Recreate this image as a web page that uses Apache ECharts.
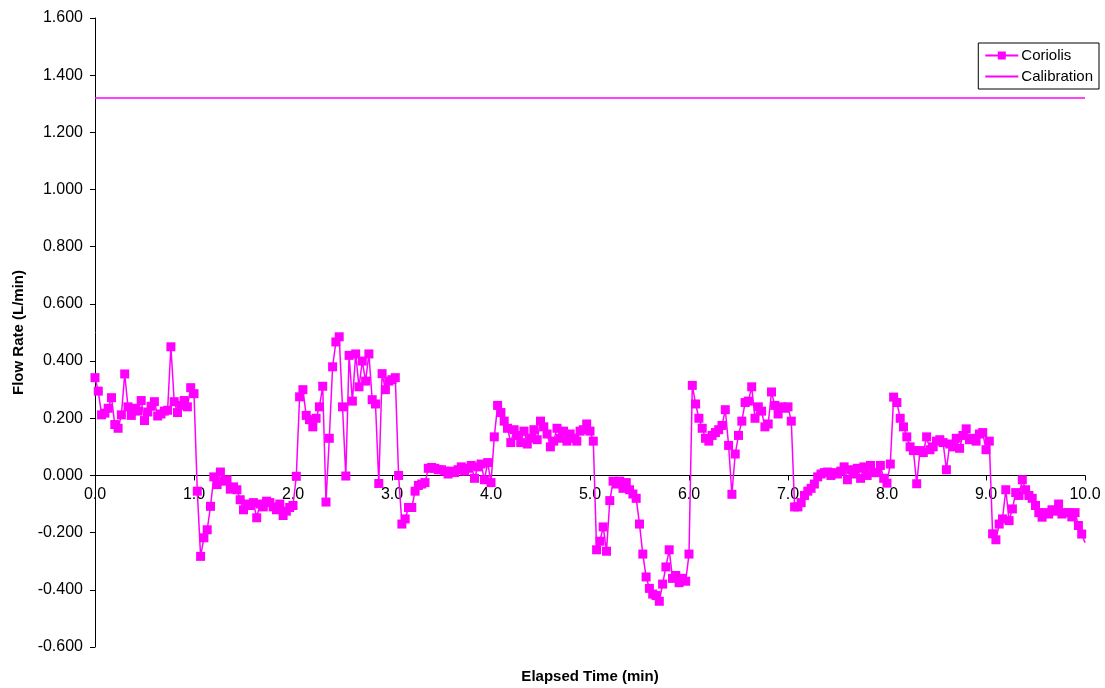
<!DOCTYPE html>
<html>
<head>
<meta charset="utf-8">
<script src="https://cdn.jsdelivr.net/npm/echarts@6/dist/echarts.min.js"></script>
<style>html,body{margin:0;padding:0;background:#fff}#c{width:1105px;height:688px}</style>
</head>
<body>
<div id="c"></div>
<script>
// Sampling interval (minutes) of the Coriolis record: one reading every 2 s
const sampleStepMin = 2 / 60;
// Coriolis flow rate readings (L/min), one per sample, minute by minute
const flowMin0 = [0.342,0.295,0.212,0.218,0.235,0.272,0.178,0.165,0.212,0.355,0.24,0.21,0.235,0.225,0.262,0.192,0.222,0.242,0.258,0.208,0.215,0.225,0.228,0.45,0.258,0.22,0.245,0.262,0.24,0.307];
const flowMin1 = [0.286,-0.055,-0.283,-0.218,-0.19,-0.108,-0.005,-0.032,0.012,-0.02,-0.015,-0.048,-0.04,-0.05,-0.085,-0.12,-0.1,-0.105,-0.095,-0.148,-0.1,-0.11,-0.09,-0.095,-0.11,-0.12,-0.1,-0.14,-0.125,-0.112];
const flowMin2 = [-0.105,-0.003,0.275,0.30,0.21,0.195,0.17,0.2,0.24,0.312,-0.093,0.13,0.38,0.467,0.485,0.24,-0.002,0.42,0.26,0.425,0.31,0.40,0.33,0.425,0.265,0.25,-0.028,0.356,0.30,0.33];
const flowMin3 = [0.335,0.342,0.0,-0.17,-0.152,-0.112,-0.112,-0.055,-0.035,-0.03,-0.025,0.025,0.028,0.025,0.02,0.02,0.015,0.005,0.015,0.01,0.02,0.03,0.015,0.025,0.035,-0.01,0.03,0.04,-0.015,0.045];
const flowMin4 = [-0.025,0.135,0.245,0.22,0.19,0.165,0.115,0.16,0.14,0.115,0.155,0.11,0.13,0.16,0.125,0.19,0.17,0.145,0.1,0.12,0.165,0.13,0.155,0.12,0.145,0.13,0.12,0.155,0.16,0.18];
const flowMin5 = [0.155,0.12,-0.26,-0.23,-0.18,-0.265,-0.088,-0.02,-0.03,-0.02,-0.045,-0.025,-0.05,-0.065,-0.08,-0.17,-0.275,-0.355,-0.395,-0.415,-0.42,-0.44,-0.38,-0.32,-0.26,-0.36,-0.35,-0.375,-0.36,-0.37];
const flowMin6 = [-0.275,0.315,0.25,0.2,0.165,0.13,0.12,0.14,0.15,0.16,0.175,0.23,0.105,-0.066,0.075,0.14,0.19,0.255,0.26,0.31,0.2,0.24,0.225,0.17,0.18,0.292,0.245,0.215,0.24,0.235];
const flowMin7 = [0.24,0.19,-0.11,-0.11,-0.095,-0.07,-0.055,-0.045,-0.03,-0.005,0.005,0.01,0.012,0.0,0.01,0.005,0.015,0.03,-0.015,0.02,0.005,0.025,-0.01,0.03,0.0,0.035,0.01,0.01,0.035,-0.01];
const flowMin8 = [-0.027,0.04,0.274,0.255,0.2,0.17,0.135,0.1,0.087,-0.029,0.087,0.08,0.135,0.09,0.1,0.12,0.125,0.115,0.02,0.11,0.1,0.13,0.095,0.14,0.163,0.125,0.13,0.12,0.145,0.15];
const flowMin9 = [0.09,0.12,-0.204,-0.225,-0.17,-0.152,-0.05,-0.158,-0.117,-0.06,-0.07,-0.015,-0.05,-0.07,-0.08,-0.105,-0.13,-0.146,-0.13,-0.135,-0.12,-0.125,-0.1,-0.135,-0.13,-0.13,-0.145,-0.13,-0.175,-0.205,-0.235];
// Calibration flow rate (L/min) over the run
const calibrationTimes = [0, 10];
const calibrationValues = [1.32, 1.32];
const seriesNames = ['Coriolis', 'Calibration'];
const xTitle = 'Elapsed Time (min)';
const yTitle = 'Flow Rate (L/min)';

const coriolisValues = [].concat(flowMin0, flowMin1, flowMin2, flowMin3, flowMin4, flowMin5, flowMin6, flowMin7, flowMin8, flowMin9);
const lastIdx = coriolisValues.length - 1;
const coriolisData = coriolisValues.map((v, i) => {
  const item = { value: [i * sampleStepMin, v] };
  if (i === lastIdx) item.symbolSize = 0;
  return item;
});
const calibrationData = calibrationTimes.map((t, i) => [t, calibrationValues[i]]);

const FONT = 'Liberation Sans, Arial, sans-serif';
const MAG = '#FF00FF';
const chart = echarts.init(document.getElementById('c'), null, { renderer: 'canvas' });
chart.setOption({
  animation: false,
  backgroundColor: '#fff',
  textStyle: { fontFamily: FONT },
  grid: { left: 95, right: 20, top: 18, bottom: 41, containLabel: false, outerBoundsMode: 'none' },
  legend: {
    orient: 'vertical', right: 6, top: 43,
    data: [
      { name: seriesNames[0] },
      { name: seriesNames[1], itemStyle: { opacity: 0 } }
    ],
    borderColor: '#000', borderWidth: 1, padding: [5, 6, 5, 6],
    itemGap: 6, itemWidth: 33, itemHeight: 10,
    textStyle: { fontFamily: FONT, fontSize: 15, color: '#000', padding: [0, 0, 0, -2] }
  },
  xAxis: {
    type: 'value', min: 0, max: 10, interval: 1,
    name: xTitle, nameLocation: 'middle', nameGap: 22,
    nameTextStyle: { fontFamily: FONT, fontSize: 15, fontWeight: 'bold', color: '#000' },
    axisLine: { onZero: true, lineStyle: { color: '#000', width: 1 } },
    axisTick: { show: true, inside: false, length: 5, lineStyle: { color: '#000' } },
    axisLabel: { margin: -160, fontSize: 16, color: '#000', fontFamily: FONT, formatter: v => v.toFixed(1) },
    splitLine: { show: false }
  },
  yAxis: {
    type: 'value', min: -0.6, max: 1.6, interval: 0.2,
    name: yTitle, nameLocation: 'middle', nameGap: 69, nameRotate: 90,
    nameTextStyle: { fontFamily: FONT, fontSize: 15, fontWeight: 'bold', color: '#000' },
    axisLine: { show: true, onZero: false, lineStyle: { color: '#000', width: 1 } },
    axisTick: { show: true, inside: false, length: 5, lineStyle: { color: '#000' } },
    axisLabel: { margin: 12, fontSize: 16, color: '#000', fontFamily: FONT, formatter: v => v.toFixed(3) },
    splitLine: { show: false }
  },
  series: [
    {
      name: seriesNames[0], type: 'line', data: coriolisData,
      symbol: 'rect', symbolSize: 9, showAllSymbol: true,
      lineStyle: { color: MAG, width: 1.5 },
      itemStyle: { color: MAG, borderWidth: 0 },
      clip: false, z: 3
    },
    {
      name: seriesNames[1], type: 'line', data: calibrationData,
      symbol: 'none', showSymbol: false,
      lineStyle: { color: MAG, width: 1.5 },
      itemStyle: { color: MAG }, z: 2
    }
  ]
});
</script>
</body>
</html>
